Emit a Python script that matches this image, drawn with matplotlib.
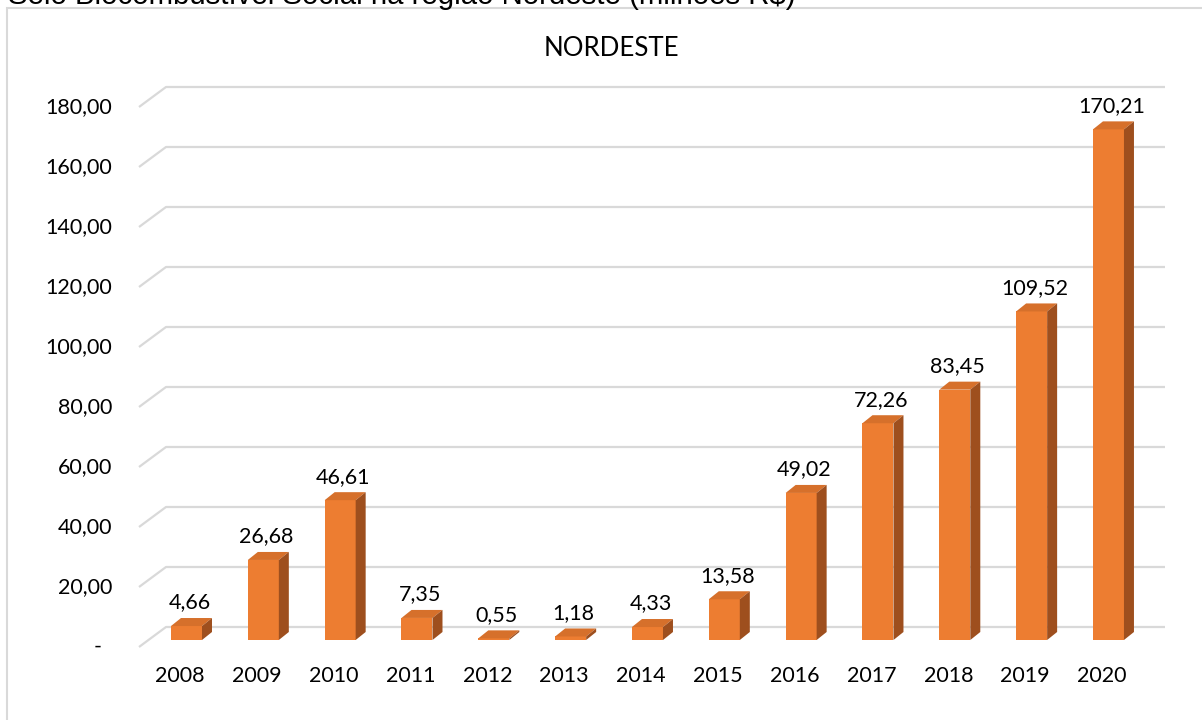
import matplotlib.pyplot as plt
from matplotlib.patches import Polygon, Rectangle

years = ['2008', '2009', '2010', '2011', '2012', '2013', '2014',
         '2015', '2016', '2017', '2018', '2019', '2020']
valores = [4.66, 26.68, 46.61, 7.35, 0.55, 1.18, 4.33,
           13.58, 49.02, 72.26, 83.45, 109.52, 170.21]
yticks = [0, 20, 40, 60, 80, 100, 120, 140, 160, 180]

W, H = 1202, 720
fig = plt.figure(figsize=(W / 100, H / 100), dpi=100)

# axes geometry (pixels) -> 3 px per unit on y, ~76.8 px per category
px_cat = 76.83
left = 186.5 - 0.5 * px_cat
ax = fig.add_axes([left / W, 50 / H, 13 * px_cat / W, 600 / H])
ax.set_xlim(-0.5, 12.5)
ax.set_ylim(-10, 190)
ax.axis('off')

def dx(p):
    return p / px_cat

def dy(p):
    return p / 3.0

font = 'Lato'
grid_c = '#D9D9D9'
front_c = '#ED7D31'
top_c = '#D6702B'
side_c = '#9E4F1E'

# depth of the 3d floor / bars
back_x0 = -0.5 + dx(166 - left)
front_x0 = -0.5 + dx(139 - left)
back_x1 = -0.5 + dx(1165 - left)

for v in yticks:
    ax.plot([front_x0, back_x0, back_x1], [v - dy(7), v + dy(13), v + dy(13)],
            color=grid_c, lw=1.6, solid_capstyle='butt', zorder=1, clip_on=False)
    lab = '-' if v == 0 else f'{v:.2f}'.replace('.', ',')
    xl = -0.5 + dx(112 - left) if v else -0.5 + dx(102 - left)
    ax.text(xl, v - dy(7), lab, ha='right', va='center', fontsize=15.5,
            family=font, color='#000000')

w = 31 / px_cat
ddx, ddy = dx(10), dy(8)
ax.bar(range(len(valores)), valores, width=w, color=front_c, zorder=3)
for i, v in enumerate(valores):
    xl, xr = i - w / 2, i + w / 2
    ax.add_patch(Polygon([(xl, v), (xr, v), (xr + ddx, v + ddy), (xl + ddx, v + ddy)],
                         closed=True, color=top_c, lw=0, zorder=3))
    ax.add_patch(Polygon([(xr, 0), (xr + ddx, ddy), (xr + ddx, v + ddy), (xr, v)],
                         closed=True, color=side_c, lw=0, zorder=3))
    ax.text(i + dx(3), v + dy(17.5), f'{v:.2f}'.replace('.', ','), ha='center',
            va='baseline', fontsize=15.5, family=font)
    ax.text(i - dx(6.5), -dy(36), years[i], ha='center', va='center',
            fontsize=15.5, family=font)

fig.text(611 / W, 1 - 48 / H, 'NORDESTE', ha='center', va='center',
         fontsize=18.6, family=font)

# chart frame
fig.add_artist(Rectangle((7 / W, -0.1), 1.2, (H - 8) / H + 0.1,
                         transform=fig.transFigure, fill=False,
                         edgecolor=grid_c, lw=1.5))
# cut-off heading above the chart
fig.text(8 / W, 1 - 4 / H, 'Selo Biocombustível Social na região Nordeste (milhões R$)',
         ha='left', va='baseline', fontsize=21.2, family='Liberation Sans')

fig.savefig('out.png', dpi=100)
